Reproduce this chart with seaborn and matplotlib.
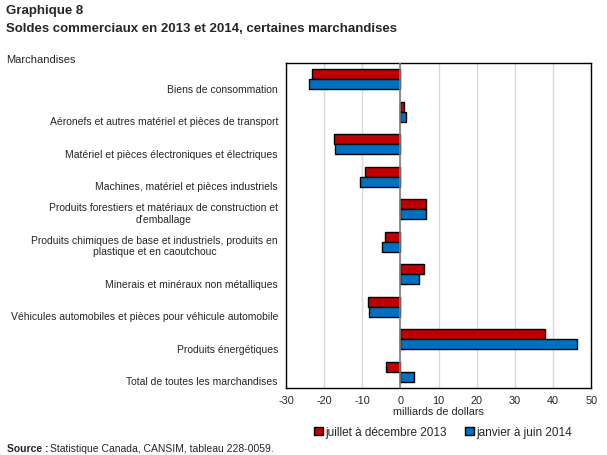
import pandas as pd
import matplotlib
matplotlib.use("Agg")
import matplotlib.pyplot as plt
import matplotlib.transforms as mtransforms
import seaborn as sns

# Donnees (milliards de dollars)
categories = [
    "Biens de consommation",
    "Aéronefs et autres matériel et pièces de transport",
    "Matériel et pièces électroniques et électriques",
    "Machines, matériel et pièces industriels",
    "Produits forestiers et matériaux de construction et\nd'emballage",
    "Produits chimiques de base et industriels, produits en\nplastique et en caoutchouc",
    "Minerais et minéraux non métalliques",
    "Véhicules automobiles et pièces pour véhicule automobile",
    "Produits énergétiques",
    "Total de toutes les marchandises",
]
serie_2013 = [-23.1, 0.9, -17.3, -9.2, 6.6, -4.0, 6.3, -8.4, 37.8, -3.7]
serie_2014 = [-23.9, 1.6, -17.1, -10.5, 6.8, -4.7, 4.8, -8.2, 46.2, 3.6]
noms_series = ["juillet à décembre 2013", "janvier à juin 2014"]
couleurs = ["#C00000", "#0070C0"]
graduations = [-30, -20, -10, 0, 10, 20, 30, 40, 50]

df = pd.DataFrame({
    "categorie": categories * 2,
    "valeur": serie_2013 + serie_2014,
    "periode": [noms_series[0]] * len(categories) + [noms_series[1]] * len(categories),
})

sns.set_style("white")
plt.rcParams["font.family"] = ["Liberation Sans", "DejaVu Sans"]

fig = plt.figure(figsize=(6.07, 4.56), dpi=100)
ax = fig.add_axes([0.471, 0.147, 0.503, 0.713])

sns.barplot(data=df, y="categorie", x="valeur", hue="periode", orient="h",
            palette=couleurs, saturation=1, width=0.62, edgecolor="black",
            linewidth=1.0, ax=ax, legend=True)

ax.set_xlim(-30, 50)
ax.set_xticks(graduations)
ax.set_xticklabels([str(g) for g in graduations], fontsize=7.8)
ax.tick_params(axis="x", length=0, pad=5)

# Etiquettes des categories : alignees par le bas, un peu sous le centre des barres
ax.set_yticklabels([])
ax.tick_params(axis="y", length=0)
decalage = mtransforms.ScaledTranslation(-8 / 100, -14.5 / 100, fig.dpi_scale_trans)
trans = mtransforms.blended_transform_factory(ax.transAxes, ax.transData) + decalage
for i, cat in enumerate(categories):
    ax.text(0, i, cat, transform=trans, ha="right", va="bottom",
            multialignment="center", fontsize=7.5, linespacing=1.15)

ax.grid(axis="x", color="#D9D9D9", linewidth=1.0)
ax.set_axisbelow(True)
ax.axvline(0, color="#808080", linewidth=1.2, zorder=3)
for s in ax.spines.values():
    s.set_color("black")
    s.set_linewidth(1.0)
    s.set_visible(True)
ax.set_ylabel("")
ax.set_xlabel("milliards de dollars", fontsize=7.8, labelpad=1)

handles, labels = ax.get_legend_handles_labels()
ax.get_legend().remove()
fig.legend(handles, labels, loc="center", bbox_to_anchor=(0.73, 0.05), ncol=2,
           frameon=False, fontsize=8.5, handlelength=0.7, handleheight=0.7,
           handletextpad=0.2, columnspacing=1.6)

fig.text(0.01, 0.988, "Graphique 8", fontsize=9.5, fontweight="bold", va="top")
fig.text(0.01, 0.95, "Soldes commerciaux en 2013 et 2014, certaines marchandises",
         fontsize=9.5, fontweight="bold", va="top")
fig.text(0.01, 0.88, "Marchandises", fontsize=8, va="top")
fig.text(0.012, 0.005, "Source :", fontsize=7.5, fontweight="bold", va="bottom")
fig.text(0.082, 0.005, "Statistique Canada, CANSIM, tableau 228-0059.", fontsize=7.5, va="bottom")

fig.savefig("out.png", dpi=100)
